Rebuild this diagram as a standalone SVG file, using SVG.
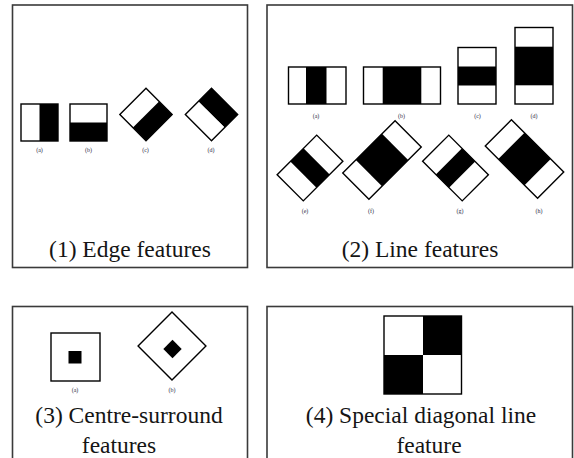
<svg xmlns="http://www.w3.org/2000/svg" width="574" height="458" viewBox="0 0 574 458">
  <style>
    .panel { fill: #ffffff; stroke: #3a3a3a; stroke-width: 1.6; }
    .box { stroke: #000000; stroke-width: 1.4; fill: none; }
    .w { fill: #ffffff; }
    .k { fill: #000000; }
    .title { font-family: "Liberation Serif", "Times New Roman", serif; font-size: 23.5px; fill: #151515; text-anchor: middle; }
    .lbl { font-family: "Liberation Serif", "Times New Roman", serif; font-size: 6px; fill: #2a2a44; text-anchor: middle; }
  </style>

  <rect width="574" height="458" fill="#ffffff"/>

  <!-- (1) Edge features -->
  <g id="panel-edge">
    <rect class="panel" x="12.5" y="5" width="235" height="262.5"/>
    <g id="edge-a">
      <rect class="w" x="21" y="104" width="18.5" height="37"/>
      <rect class="k" x="39.5" y="104" width="18.5" height="37"/>
      <rect class="box" x="21" y="104" width="37" height="37"/>
      <text class="lbl" x="39.5" y="152">(a)</text>
    </g>
    <g id="edge-b">
      <rect class="w" x="70" y="104" width="37" height="18.5"/>
      <rect class="k" x="70" y="122.5" width="37" height="18.5"/>
      <rect class="box" x="70" y="104" width="37" height="37"/>
      <text class="lbl" x="88.5" y="152">(b)</text>
    </g>
    <g id="edge-c">
      <g transform="translate(146 114.5) rotate(45)">
        <rect class="w" x="-18.5" y="-18.5" width="18.5" height="37"/>
        <rect class="k" x="0" y="-18.5" width="18.5" height="37"/>
        <rect class="box" x="-18.5" y="-18.5" width="37" height="37"/>
      </g>
      <text class="lbl" x="145.5" y="152">(c)</text>
    </g>
    <g id="edge-d">
      <g transform="translate(211.5 114.5) rotate(45)">
        <rect class="k" x="-18.5" y="-18.5" width="37" height="18.5"/>
        <rect class="w" x="-18.5" y="0" width="37" height="18.5"/>
        <rect class="box" x="-18.5" y="-18.5" width="37" height="37"/>
      </g>
      <text class="lbl" x="211" y="152">(d)</text>
    </g>
    <text class="title" x="130" y="257">(1) Edge features</text>
  </g>

  <!-- (2) Line features -->
  <g id="panel-line">
    <rect class="panel" x="267" y="5" width="305.5" height="262.5"/>
    <g id="line-a">
      <rect class="w" x="288.5" y="67" width="57.5" height="37"/>
      <rect class="k" x="306" y="67" width="20.5" height="37"/>
      <rect class="box" x="288.5" y="67" width="57.5" height="37"/>
      <text class="lbl" x="316" y="118">(a)</text>
    </g>
    <g id="line-b">
      <rect class="w" x="363.5" y="67" width="77" height="37"/>
      <rect class="k" x="382.7" y="67" width="38.6" height="37"/>
      <rect class="box" x="363.5" y="67" width="77" height="37"/>
      <text class="lbl" x="401.5" y="118">(b)</text>
    </g>
    <g id="line-c">
      <rect class="w" x="458" y="47.5" width="38" height="56.5"/>
      <rect class="k" x="458" y="66.5" width="38" height="19"/>
      <rect class="box" x="458" y="47.5" width="38" height="56.5"/>
      <text class="lbl" x="477.5" y="118">(c)</text>
    </g>
    <g id="line-d">
      <rect class="w" x="515" y="27.5" width="38" height="76.5"/>
      <rect class="k" x="515" y="46.7" width="38" height="38.6"/>
      <rect class="box" x="515" y="27.5" width="38" height="76.5"/>
      <text class="lbl" x="534" y="118">(d)</text>
    </g>
    <g id="line-e">
      <g transform="translate(310 168) rotate(45)">
        <rect class="w" x="-18.5" y="-28" width="37" height="56"/>
        <rect class="k" x="-18.5" y="-9.3" width="37" height="18.6"/>
        <rect class="box" x="-18.5" y="-28" width="37" height="56"/>
      </g>
      <text class="lbl" x="305" y="213">(e)</text>
    </g>
    <g id="line-f">
      <g transform="translate(382 160) rotate(45)">
        <rect class="w" x="-18.5" y="-37" width="37" height="74"/>
        <rect class="k" x="-18.5" y="-18.5" width="37" height="37"/>
        <rect class="box" x="-18.5" y="-37" width="37" height="74"/>
      </g>
      <text class="lbl" x="371" y="213">(f)</text>
    </g>
    <g id="line-g">
      <g transform="translate(455.5 168) rotate(-45)">
        <rect class="w" x="-18.5" y="-28" width="37" height="56"/>
        <rect class="k" x="-18.5" y="-9.3" width="37" height="18.6"/>
        <rect class="box" x="-18.5" y="-28" width="37" height="56"/>
      </g>
      <text class="lbl" x="460" y="213">(g)</text>
    </g>
    <g id="line-h">
      <g transform="translate(524.5 159) rotate(-45)">
        <rect class="w" x="-18.5" y="-37" width="37" height="74"/>
        <rect class="k" x="-18.5" y="-18.5" width="37" height="37"/>
        <rect class="box" x="-18.5" y="-37" width="37" height="74"/>
      </g>
      <text class="lbl" x="539" y="213">(h)</text>
    </g>
    <text class="title" x="420" y="257">(2) Line features</text>
  </g>

  <!-- (3) Centre-surround features -->
  <g id="panel-centre">
    <rect class="panel" x="12.5" y="306.5" width="235" height="160"/>
    <g id="centre-a">
      <rect class="box" x="51" y="333" width="49" height="48"/>
      <rect class="k" x="68.5" y="351" width="13" height="12.5"/>
      <text class="lbl" x="75" y="392">(a)</text>
    </g>
    <g id="centre-b">
      <g transform="translate(172 346) rotate(45)">
        <rect class="box" x="-24" y="-24" width="48" height="48"/>
      </g>
      <g transform="translate(172.5 349) rotate(45)">
        <rect class="k" x="-6.5" y="-6.5" width="13" height="13"/>
      </g>
      <text class="lbl" x="172" y="392">(b)</text>
    </g>
    <text class="title" x="129" y="423">(3) Centre-surround</text>
    <text class="title" x="119" y="452.5">features</text>
  </g>

  <!-- (4) Special diagonal line feature -->
  <g id="panel-diagonal">
    <rect class="panel" x="267" y="306.5" width="305.5" height="160"/>
    <g id="diagonal-square">
      <rect class="w" x="384" y="316" width="77.5" height="78"/>
      <rect class="k" x="423" y="316" width="38.5" height="39"/>
      <rect class="k" x="384" y="355" width="39" height="39"/>
      <rect class="box" x="384" y="316" width="77.5" height="78"/>
    </g>
    <text class="title" x="421" y="423">(4) Special diagonal line</text>
    <text class="title" x="429" y="452.5">feature</text>
  </g>
</svg>
